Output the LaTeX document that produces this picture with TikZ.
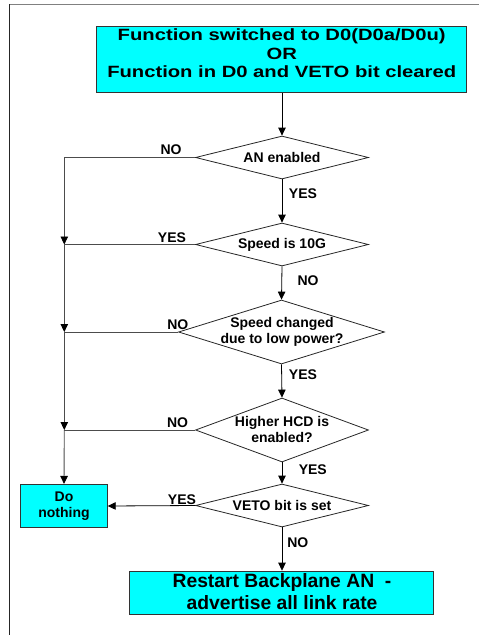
\documentclass[tikz,border=0pt]{standalone}
\usepackage{fontspec}
\setmainfont{Liberation Sans}
\usepackage{graphicx}
\usetikzlibrary{arrows.meta,shapes.geometric}
\definecolor{boxcyan}{RGB}{0,255,255}
\newcommand{\widetext}[1]{\scalebox{1.24}[1]{#1}}
\begin{document}
\begin{tikzpicture}[x=1pt,y=-1pt,
  box/.style={draw=black!80, line width=0.8pt, fill=boxcyan, inner sep=0pt},
  dia/.style={draw=black!85, line width=0.8pt, diamond, inner sep=0pt, fill=white},
  smalltext/.style={font=\bfseries\fontsize{14}{16}\selectfont, align=center, inner sep=0pt},
  lab/.style={font=\bfseries\fontsize{14}{16}\selectfont, inner sep=0pt},
  conn/.style={draw=black, line width=0.8pt},
  arr/.style={conn, -{Triangle[length=8pt,width=7.5pt]}},
  side/.style={draw=black!70, line width=0.9pt},
  sidearr/.style={side, -{Triangle[length=8pt,width=7.5pt,color=black]}}
]
\useasboundingbox (0,0) rectangle (479,635);
% frame
\draw[gray, line width=1.3pt] (9.5,4.5) -- (479,4.5);
\draw[black!85, line width=1pt] (9.5,4) -- (9.5,635);

% start box
\node[box, minimum width=370pt, minimum height=65.6pt] (start) at (281.7,59.5) {};
\node[font=\bfseries\fontsize{16.3}{18.3}\selectfont, align=center, inner sep=0pt] (startt) at (281.7,53.4)
  {\widetext{Function switched to D0(D0a/D0u)}\\\widetext{OR}\\\widetext{Function in D0 and VETO bit cleared}};

% diamonds
\node[dia, minimum width=173pt, minimum height=43pt] (d1) at (282,157.5) {};
\node[smalltext] (d1t) at (282,157.5) {AN enabled};
\node[dia, minimum width=173pt, minimum height=43pt] (d2) at (282,244.5) {};
\node[smalltext] (d2t) at (282,244.5) {Speed is 10G};
\node[dia, minimum width=206pt, minimum height=64pt] (d3) at (281.5,332) {};
\node[smalltext] (d3t) at (282,332) {Speed changed\\due to low power?};
\node[dia, minimum width=173pt, minimum height=64pt] (d4) at (282,430) {};
\node[smalltext] (d4t) at (282,429.5) {Higher HCD is\\enabled?};
\node[dia, minimum width=173pt, minimum height=43pt] (d5) at (282,505.5) {};
\node[smalltext] (d5t) at (282,505.5) {VETO bit is set};

% end boxes
\node[box, minimum width=86.6pt, minimum height=43.4pt] (dn) at (64,506) {};
\node[smalltext, font=\bfseries\fontsize{14}{15.5}\selectfont] (dnt) at (64,506) {Do\\nothing};
\node[box, minimum width=304pt, minimum height=43.3pt] (rs) at (281.3,592.7) {};
\node[font=\bfseries\fontsize{19.3}{22}\selectfont, align=center, inner sep=0pt] (rst) at (282,591.5)
  {Restart Backplane AN\ \ -\\advertise all link rate};

% main flow
\draw[arr] (start.south -| d1.north) -- (d1.north);
\draw[arr] (d1.south) -- (d2.north);
\draw[arr] (d2.south) -- (d3.north);
\draw[arr] (d3.south) -- (d4.north);
\draw[arr] (d4.south) -- (d5.north);
\draw[arr] (d5.south) -- (rs.north -| d5.south);
\draw[arr] (d5.west) -- (dn.east);

% left bus
\coordinate (L1) at (64.3,157.5);
\coordinate (L2) at (64.3,244.5);
\coordinate (L3) at (64.3,332);
\coordinate (L4) at (64.3,430);
\draw[side] (d1.west) -- (L1);
\draw[sidearr] (L1) -- (L2);
\draw[side] (d2.west) -- (L2);
\draw[sidearr] (L2) -- (L3);
\draw[side] (d3.west) -- (L3);
\draw[sidearr] (L3) -- (L4);
\draw[side] (d4.west) -- (L4);
\draw[sidearr] (L4) -- (dn.north);

% labels
\node[lab] (l1) at (171,149.7) {NO};
\node[lab] (l2) at (303,193.3) {YES};
\node[lab] (l3) at (172,237.3) {YES};
\node[lab] (l4) at (308,280.7) {NO};
\node[lab] (l5) at (177.8,325) {NO};
\node[lab] (l6) at (303,375) {YES};
\node[lab] (l7) at (177.5,422.5) {NO};
\node[lab] (l8) at (312.8,470) {YES};
\node[lab] (l9) at (182,499.3) {YES};
\node[lab] (l10) at (297.8,542.3) {NO};
\end{tikzpicture}
\end{document}
